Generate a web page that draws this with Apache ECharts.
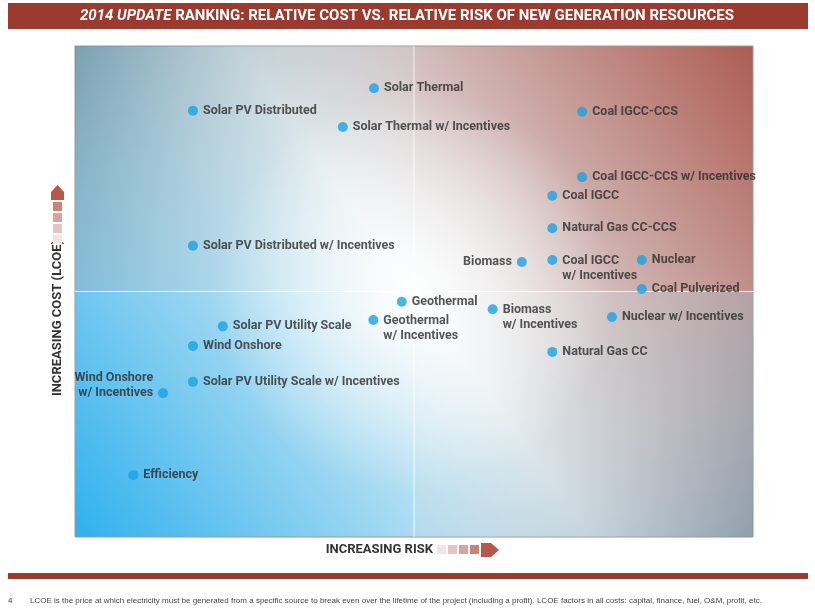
<!DOCTYPE html>
<html><head><meta charset="utf-8">
<script src="https://cdn.jsdelivr.net/npm/echarts@6/dist/echarts.min.js"></script>
<style>html,body{margin:0;background:#fff}#c{width:815px;height:613px}</style>
</head><body><div id="c"></div>
<script>
// resources, relative risk (x) and relative cost (y), 0-100
var names = ['Solar Thermal','Solar PV Distributed','Solar Thermal w/ Incentives','Coal IGCC-CCS',
  'Coal IGCC-CCS w/ Incentives','Coal IGCC','Natural Gas CC-CCS','Solar PV Distributed w/ Incentives',
  'Biomass','Coal IGCC\nw/ Incentives','Nuclear','Coal Pulverized','Geothermal','Geothermal\nw/ Incentives',
  'Biomass\nw/ Incentives','Nuclear w/ Incentives','Natural Gas CC','Solar PV Utility Scale','Wind Onshore',
  'Solar PV Utility Scale w/ Incentives','Wind Onshore\nw/ Incentives','Efficiency'];
var risk = [44.1,17.4,39.5,74.8,74.8,70.4,70.4,17.4,65.9,70.4,83.6,83.6,48.2,44.0,61.6,79.2,70.4,21.8,17.4,17.4,13.0,8.6];
var cost = [91.4,86.8,83.5,86.6,73.3,69.5,62.9,59.3,56.0,56.4,56.4,50.5,47.9,44.2,46.4,44.8,37.7,42.9,38.9,31.6,29.3,12.6];
var leftLabels = ['Biomass','Wind Onshore\nw/ Incentives'];

var font = 'Roboto,"Liberation Sans",sans-serif';
var pts = names.map(function(n,i){
  var two = n.indexOf('\n')>=0, left = leftLabels.indexOf(n)>=0;
  return {value:[risk[i],cost[i]], name:n, label:{
    position: left?'left':'right', align: left?'right':'left',
    offset: two ? [0, left?-8:8] : [0,0]}};
});
var chart = echarts.init(document.getElementById('c'));
var G = {l:75,t:46,w:678,h:491};
var sq = function(x,y,c){return {type:'rect',shape:{x:x,y:y,width:9,height:9},style:{fill:c}};};
chart.setOption({
  animation:false,
  grid:{left:G.l,top:G.t,width:G.w,height:G.h},
  xAxis:{min:0,max:100,axisLine:{show:false},axisTick:{show:false},axisLabel:{show:false},splitLine:{show:false}},
  yAxis:{min:0,max:100,axisLine:{show:false},axisTick:{show:false},axisLabel:{show:false},splitLine:{show:false}},
  graphic:[
    {type:'rect',z:-10,shape:{x:G.l,y:G.t,width:G.w,height:G.h},
      style:{stroke:'#9a9a9a',lineWidth:1,fill:new echarts.graphic.LinearGradient(0,1,1,0,[
        {offset:0,color:'#2fb0ee'},{offset:0.5,color:'#e8f1f4'},{offset:1,color:'#ad5c52'}])}},
    {type:'rect',z:-9,shape:{x:G.l,y:G.t,width:G.w/2,height:G.h/2},
      style:{fill:new echarts.graphic.LinearGradient(0,0,1,1,[{offset:0,color:'rgba(100,135,150,0.7)'},{offset:1,color:'rgba(255,255,255,0)'}])}},
    {type:'rect',z:-9,shape:{x:G.l+G.w/2,y:G.t+G.h/2,width:G.w/2,height:G.h/2},
      style:{fill:new echarts.graphic.LinearGradient(1,1,0,0,[{offset:0,color:'rgba(115,145,165,0.7)'},{offset:1,color:'rgba(255,255,255,0)'}])}},
    {type:'circle',z:-8,shape:{cx:G.l+G.w/2,cy:G.t+G.h/2,r:200},
      style:{fill:new echarts.graphic.RadialGradient(0.5,0.5,0.5,[{offset:0,color:'rgba(255,255,255,0.95)'},{offset:1,color:'rgba(255,255,255,0)'}])}},
    {type:'line',z:-7,shape:{x1:G.l+G.w/2,y1:G.t,x2:G.l+G.w/2,y2:G.t+G.h},style:{stroke:'rgba(255,255,255,0.8)',lineWidth:1}},
    {type:'line',z:-7,shape:{x1:G.l,y1:G.t+G.h/2,x2:G.l+G.w,y2:G.t+G.h/2},style:{stroke:'rgba(255,255,255,0.8)',lineWidth:1}},
    {type:'rect',shape:{x:8,y:3,width:800,height:26},style:{fill:'#9b3b30'}},
    {type:'text',x:407,y:16,style:{text:'{i|2014 UPDATE} RANKING: RELATIVE COST VS. RELATIVE RISK OF NEW GENERATION RESOURCES',
      align:'center',verticalAlign:'middle',fill:'#fff',font:'bold 15px '+font,
      rich:{i:{fontStyle:'italic',fontWeight:'bold',fontSize:15,fontFamily:font,fill:'#fff'}}}},
    {type:'text',x:433,y:550,style:{text:'INCREASING RISK',align:'right',verticalAlign:'middle',fill:'#333',font:'bold 13px '+font}},
    sq(437,545,'#f3e3e1'),sq(448,545,'#e6c4c0'),sq(459,545,'#d8a49e'),sq(470,545,'#c9837b'),
    {type:'polygon',shape:{points:[[481,543],[491,543],[499,550],[491,557],[481,557]]},style:{fill:'#b5574d'}},
    {type:'text',x:58,y:318,rotation:Math.PI/2,style:{text:'INCREASING COST (LCOE)',align:'center',verticalAlign:'middle',fill:'#333',font:'bold 13px '+font}},
    sq(53,235,'#f3e3e1'),sq(53,224,'#e6c4c0'),sq(53,213,'#d8a49e'),sq(53,202,'#c9837b'),
    {type:'polygon',shape:{points:[[51,200],[64,200],[64,192],[57.5,185],[51,192]]},style:{fill:'#b5574d'}},
    {type:'rect',shape:{x:8,y:573,width:800,height:6},style:{fill:'#9b3b30'}},
    {type:'text',x:8,y:601,style:{text:'4',verticalAlign:'middle',fill:'#444',font:'8px "Liberation Sans",sans-serif'}},
    {type:'text',x:30,y:601,style:{text:'LCOE is the price at which electricity must be generated from a specific source to break even over the lifetime of the project (including a profit). LCOE factors in all costs: capital, finance, fuel, O&M, profit, etc.',
      verticalAlign:'middle',fill:'#444',font:'8px "Liberation Sans",sans-serif'}}
  ],
  series:[{type:'scatter',symbolSize:10,itemStyle:{color:'#1aa3e3'},data:pts,
    label:{show:true,distance:5,color:'#2c2c2c',fontFamily:font,fontWeight:'bold',fontSize:12.5,lineHeight:15,formatter:'{b}'}}]
});
</script></body></html>
